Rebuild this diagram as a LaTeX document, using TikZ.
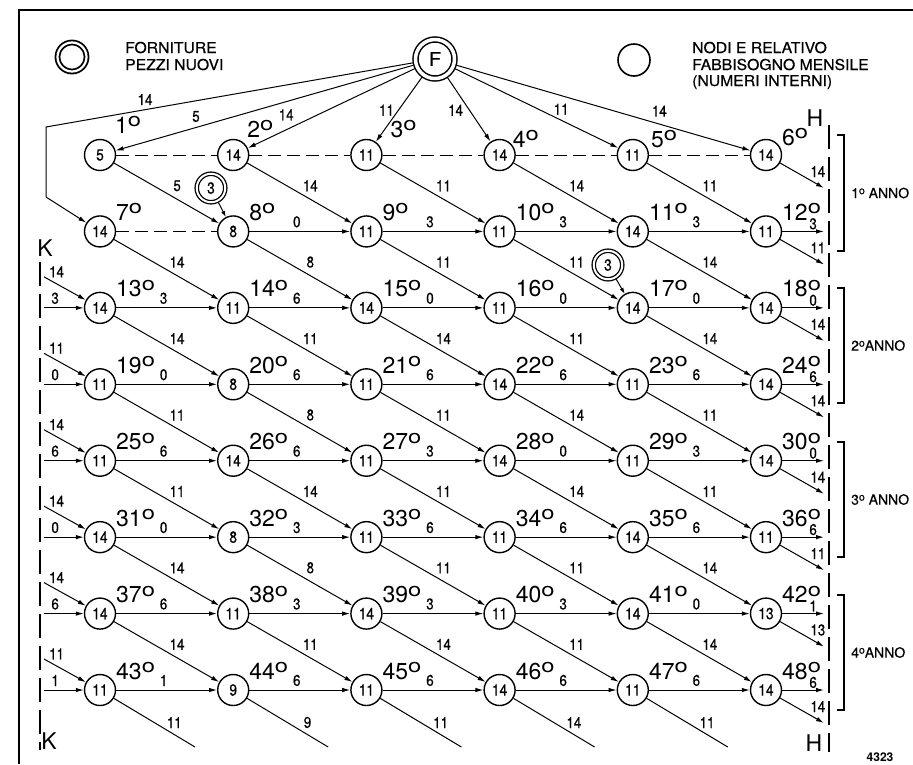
\documentclass[tikz,border=0pt]{standalone}
\usepackage{fontspec}
\usepackage{graphicx}
\setmainfont{TeX Gyre Heros}
\newfontfamily\numfont[FakeStretch=0.86,FakeBold=0.6]{TeX Gyre Heros}
\newfontfamily\legfont[FakeStretch=1.05,FakeBold=0.5]{TeX Gyre Heros}
\newfontfamily\yrfont[FakeBold=0.4]{TeX Gyre Heros}
\usetikzlibrary{arrows.meta}
\newcommand{\dgo}{\raisebox{6.5pt}{\scalebox{1.25}[1]{\fontsize{19}{19}\selectfont o}}}
\newcommand{\dgs}{\raisebox{4pt}{\fontsize{10.5}{10.5}\selectfont o}}
\begin{document}
\begin{tikzpicture}[x=1pt,y=-1pt,
  nd/.style={circle,draw,line width=1.4pt,minimum size=31pt,inner sep=0pt,font=\numfont\fontsize{16}{16}\selectfont},
  supply/.style={circle,draw,double,line width=1.3pt,double distance=2pt,minimum size=28.5pt,inner sep=0pt,outer sep=2.3pt,font=\numfont\fontsize{16}{16}\selectfont},
  con/.style={line width=1pt},
  arr/.style={con,-{Latex[length=8pt,width=4.5pt]}},
  sarr/.style={con,-{Latex[length=6pt,width=4pt]}},
  dsh/.style={line width=1pt,dash pattern=on 13pt off 6pt},
  lab/.style={font=\numfont\fontsize{15.5}{15.5}\selectfont,inner sep=1pt},
  hlab/.style={lab,anchor=south,yshift=2.5pt},
  dlab/.style={lab,pos=0.6,anchor=south,yshift=6.5pt},
  ord/.style={font=\fontsize{23}{23}\selectfont,anchor=base west,inner sep=0pt},
  big/.style={font=\fontsize{23}{23}\selectfont,inner sep=0pt},
  leg/.style={font=\legfont\fontsize{15}{15}\selectfont,anchor=base west,inner sep=0pt},
  yr/.style={font=\yrfont\fontsize{14}{14}\selectfont,anchor=west,inner sep=0pt},
  brk/.style={line width=1.1pt},
  vline/.style={line width=1.1pt,dash pattern=on 24pt off 8pt}
]
\useasboundingbox (0,0) rectangle (913,764);
\fill[white] (0,0) rectangle (913,764);

% frame
\draw[line width=1.3pt] (19,764) -- (19,10) -- (913,10);

% legend
\node[circle,draw,double,line width=1.8pt,double distance=2.2pt,minimum size=29pt,inner sep=0pt] (legF) at (72,57) {};
\node[leg] (legt1) at (125,53) {FORNITURE};
\node[leg] (legt2) at (125,70) {PEZZI NUOVI};
\node[circle,draw,line width=1.6pt,minimum size=32pt,inner sep=0pt] (legN) at (634,60) {};
\node[leg] (legt3) at (692,53) {NODI E RELATIVO};
\node[leg] (legt4) at (692,70) {FABBISOGNO MENSILE};
\node[leg] (legt5) at (692,86) {(NUMERI INTERNI)};

% source F
\node[circle,draw,double,line width=1.5pt,double distance=3.5pt,minimum size=39pt,inner sep=0pt,outer sep=3pt,font=\legfont\fontsize{19}{19}\selectfont] (F) at (435,59) {F};

\def\V{{5,14,11,14,11,14, 14,8,11,11,14,11, 14,11,14,11,14,14, 11,8,11,14,11,14, 11,14,11,14,11,14, 14,8,11,11,14,11, 14,11,14,11,14,13, 11,9,11,14,11,14}}
\def\HL{{0,0,0,0,0,0, 0,0,3,3,3,3, 3,6,0,0,0,0, 0,6,6,6,6,6, 6,6,3,0,3,0, 0,3,6,6,6,6, 6,3,3,3,0,1, 1,6,6,6,6,6}}
\def\KD{{0,0,14,11,14,14,14,11}}
\def\KH{{0,0,3,0,6,0,6,1}}

% nodes
\foreach \r in {1,...,8} {
  \foreach \c in {1,...,6} {
    \pgfmathsetmacro\xx{100+133.2*(\c-1)}
    \pgfmathsetmacro\yy{155+76.43*(\r-1)}
    \pgfmathtruncatemacro\v{\V[(\r-1)*6+\c-1]}
    \node[nd] (n\r-\c) at (\xx,\yy) {\v};
  }
  \pgfmathsetmacro\yy{155+76.43*(\r-1)}
  \coordinate (hh\r) at (824,\yy);
  \coordinate (hd\r) at (824,\yy+33);
  \coordinate (kh\r) at (44,\yy);
  \coordinate (kd\r) at (44,\yy-31);
}

% ordinals
\node[ord] (o1) at ([shift={(15,-22)}]n1-1.center) {1\dgo};
\node[ord] (o2) at ([shift={(14,-18)}]n1-2.center) {2\dgo};
\node[ord] (o3) at ([shift={(24,-18)}]n1-3.center) {3\dgo};
\node[ord] (o4) at ([shift={(13,-8)}]n1-4.center) {4\dgo};
\node[ord] (o5) at ([shift={(18,-8)}]n1-5.center) {5\dgo};
\node[ord] (o6) at ([shift={(16,-10)}]n1-6.center) {6\dgo};
\foreach \r in {2,...,8} {
  \foreach \c in {1,...,6} {
    \pgfmathtruncatemacro\k{(\r-1)*6+\c}
    \node[ord] (o\k) at ([shift={(16,-11)}]n\r-\c.center) {\k\dgo};
  }
}

% dashed links
\foreach \c [evaluate=\c as \cn using int(\c+1)] in {1,...,5}
  \draw[dsh] (n1-\c) -- (n1-\cn);
\draw[dsh] (n2-1) -- (n2-2);

% horizontal arrows
\foreach \r in {2,...,8} {
  \foreach \c in {1,...,6} {
    \pgfmathtruncatemacro\k{(\r-1)*6+\c-1}
    \pgfmathtruncatemacro\l{\HL[\k]}
    \pgfmathtruncatemacro\cn{\c+1}
    \ifnum\c<6
      \ifnum\k>6
        \draw[arr] (n\r-\c) -- node[hlab,midway,xshift=-3pt] (lh\r-\c) {\l} (n\r-\cn);
      \fi
    \else
      \draw[arr] (n\r-\c) -- node[lab,pos=0.74,anchor=south,yshift=0.5pt] (lh\r-\c) {\l} (hh\r);
    \fi
  }
}

% incoming from K
\foreach \r in {3,...,8} {
  \pgfmathtruncatemacro\a{\KD[\r-1]}
  \pgfmathtruncatemacro\b{\KH[\r-1]}
  \draw[arr] (kd\r) -- node[lab,pos=0.3,anchor=south,yshift=5pt] (lkd\r) {\a} (n\r-1);
  \draw[arr] (kh\r) -- node[lab,pos=0.28,anchor=south,yshift=2.5pt] (lkh\r) {\b} (n\r-1);
}

% diagonals
\foreach \r in {1,...,7} {
  \foreach \c in {1,...,6} {
    \pgfmathtruncatemacro\v{\V[(\r-1)*6+\c-1]}
    \pgfmathtruncatemacro\rn{\r+1}
    \pgfmathtruncatemacro\cn{\c+1}
    \ifnum\c<6
      \draw[arr] (n\r-\c) -- node[dlab] (ld\r-\c) {\v} (n\rn-\cn);
    \else
      \draw[arr] (n\r-\c) -- node[lab,pos=0.86,anchor=south,yshift=6pt] (ld\r-\c) {\v} (hd\r);
    \fi
  }
}
\foreach \c in {1,...,5} {
  \pgfmathsetmacro\xx{100+133.2*(\c-1)+95}
  \coordinate (b\c) at (\xx,747);
  \pgfmathtruncatemacro\v{\V[42+\c-1]}
  \draw[con] (n8-\c) -- node[lab,pos=0.745,anchor=south,yshift=5pt] (ld8-\c) {\v} (b\c);
}
\draw[arr] (n8-6) -- node[lab,pos=0.86,anchor=south,yshift=6pt] (ld8-6) {14} (hd8);

% arrows from F
\draw[arr] (F) -- node[lab,pos=0.73,anchor=south,yshift=4pt] (lf1) {5} (n1-1);
\draw[arr] (F) -- node[lab,pos=0.77,anchor=south,yshift=8pt] (lf2) {14} (n1-2);
\draw[arr] (F) -- node[lab,pos=0.51,anchor=east,xshift=-3pt] (lf3) {11} (n1-3);
\draw[arr] (F) -- node[lab,pos=0.51,anchor=east,xshift=-5pt] (lf4) {14} (n1-4);
\draw[arr] (F) -- node[lab,pos=0.65,anchor=south,yshift=4pt] (lf5) {11} (n1-5);
\draw[arr] (F) -- node[lab,pos=0.69,anchor=south,yshift=6pt] (lf6) {14} (n1-6);
\coordinate (c1) at (46,127);
\coordinate (c2) at (46,197);
\draw[arr] (F) -- node[lab,pos=0.73,anchor=south,yshift=3pt] (lf7) {14} (c1) -- (c2) -- (n2-1);

% extra supplies
\node[supply] (s1) at (211,188) {3};
\node[supply] (s2) at (608,265) {3};
\draw[sarr] (s1) -- (n2-2);
\draw[sarr] (s2) -- (n3-5);

% K and H boundaries
\node[big] (Ktop) at (45,248) {K};
\node[big] (Kbot) at (49,741) {K};
\node[big] (Htop) at (815,118) {H};
\node[big] (Hbot) at (814,743) {H};
\draw[vline] (40,262) -- (40,750);
\draw[vline] (829,125) -- (829,752);

% year brackets
\foreach \t/\b/\txt in {135/251/{1\dgs\ ANNO}, 288/403/{2\dgs ANNO}, 442/557/{3\dgs\ ANNO}, 595/710/{4\dgs ANNO}} {
  \draw[brk] (837,\t) -- (844,\t) -- (844,\b) -- (837,\b);
  \node[yr] (yr\t) at (851,{(\t+\b)/2}) {\txt};
}

\node[font=\bfseries\fontsize{12}{12}\selectfont,inner sep=0pt] (num) at (880,757) {4323};
\end{tikzpicture}
\end{document}
